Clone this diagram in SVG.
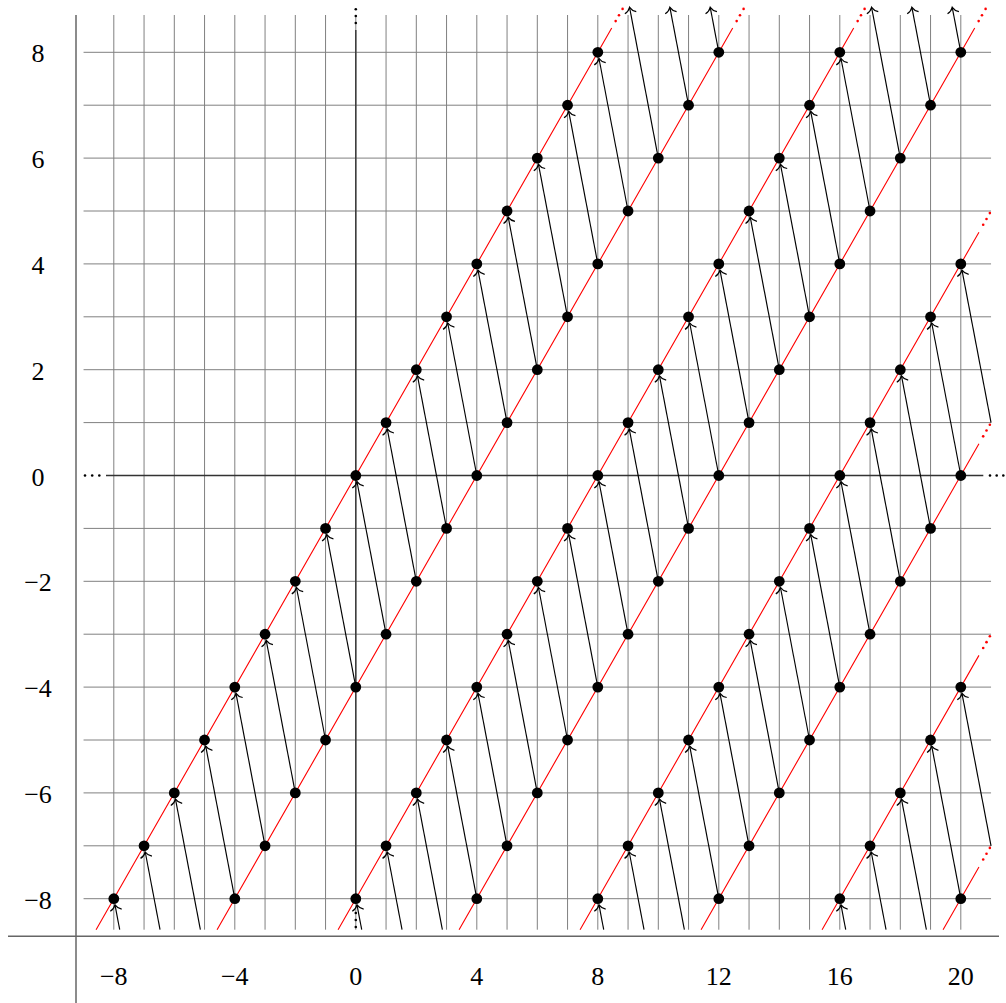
<svg xmlns="http://www.w3.org/2000/svg" width="1006" height="1003" viewBox="0 0 1006 1003">
<style>
.grid{stroke:#808080;stroke-width:1;fill:none}
.frame{stroke:#666;stroke-width:1.5;fill:none}
.axis{stroke:#333;stroke-width:1.4;fill:none}
.red{stroke:#ff0000;stroke-width:1.1;fill:none}
.rdot{fill:#ff0000}
.adot{fill:#000}
.arr{stroke:#000;stroke-width:1.15;fill:none;marker-end:url(#ah)}
.pt{fill:#000}
text{font-family:"Liberation Serif",serif;font-size:26px;fill:#000;text-anchor:middle}
</style>
<defs>
<marker id="ah" markerUnits="userSpaceOnUse" viewBox="-8 -8 16 16" markerWidth="16" markerHeight="16" refX="0" refY="0" orient="auto" overflow="visible">
<path d="M-5.4,-5.8 C-4.2,-2.8 -1.8,-0.8 0,0 C-1.8,0.8 -4.2,2.8 -5.4,5.8" fill="none" stroke="#000" stroke-width="1.25"/>
</marker>
</defs>
<rect width="1006" height="1003" fill="#fff"/>
<g id="grid">
<path class="grid" d="M113.8 15V929.7M144.05 15V929.7M174.3 15V929.7M204.55 15V929.7M234.8 15V929.7M265.05 15V929.7M295.3 15V929.7M325.55 15V929.7M355.8 15V929.7M386.05 15V929.7M416.3 15V929.7M446.55 15V929.7M476.8 15V929.7M507.05 15V929.7M537.3 15V929.7M567.55 15V929.7M597.8 15V929.7M628.05 15V929.7M658.3 15V929.7M688.55 15V929.7M718.8 15V929.7M749.05 15V929.7M779.3 15V929.7M809.55 15V929.7M839.8 15V929.7M870.05 15V929.7M900.3 15V929.7M930.55 15V929.7M960.8 15V929.7"/>
<path class="grid" d="M83.55 52.3H991.05M83.55 105.2H991.05M83.55 158.1H991.05M83.55 211H991.05M83.55 263.9H991.05M83.55 316.8H991.05M83.55 369.7H991.05M83.55 422.6H991.05M83.55 528.4H991.05M83.55 581.3H991.05M83.55 634.2H991.05M83.55 687.1H991.05M83.55 740H991.05M83.55 792.9H991.05M83.55 845.8H991.05M83.55 898.7H991.05"/>
</g>
<g id="frame">
<line class="frame" x1="76" y1="15" x2="76" y2="1003"/>
<line class="frame" x1="8" y1="936.3" x2="999" y2="936.3"/>
</g>
<g id="axes">
<line class="axis" x1="106" y1="475.5" x2="983.3" y2="475.5"/>
<line class="axis" x1="355.8" y1="898.7" x2="355.8" y2="30"/>
<circle class="adot" cx="85" cy="475.5" r="1.3"/><circle class="adot" cx="92.2" cy="475.5" r="1.3"/><circle class="adot" cx="99.3" cy="475.5" r="1.3"/>
<circle class="adot" cx="990" cy="475.5" r="1.3"/><circle class="adot" cx="996.7" cy="475.5" r="1.3"/><circle class="adot" cx="1003.3" cy="475.5" r="1.3"/>
<circle class="adot" cx="355.8" cy="23" r="1.3"/><circle class="adot" cx="355.8" cy="16" r="1.3"/><circle class="adot" cx="355.8" cy="9.3" r="1.3"/>
<circle class="adot" cx="355.8" cy="913" r="1.3"/><circle class="adot" cx="355.8" cy="920" r="1.3"/><circle class="adot" cx="355.8" cy="927" r="1.3"/>
</g>
<g id="labels">
<text x="38" y="62.3" font-family="Liberation Serif, serif" font-size="26">8</text>
<text x="38" y="168.1" font-family="Liberation Serif, serif" font-size="26">6</text>
<text x="38" y="273.9" font-family="Liberation Serif, serif" font-size="26">4</text>
<text x="38" y="379.7" font-family="Liberation Serif, serif" font-size="26">2</text>
<text x="38" y="485.5" font-family="Liberation Serif, serif" font-size="26">0</text>
<text x="38" y="591.3" font-family="Liberation Serif, serif" font-size="26">−2</text>
<text x="38" y="697.1" font-family="Liberation Serif, serif" font-size="26">−4</text>
<text x="38" y="802.9" font-family="Liberation Serif, serif" font-size="26">−6</text>
<text x="38" y="908.7" font-family="Liberation Serif, serif" font-size="26">−8</text>
<text x="113.8" y="984.7" font-family="Liberation Serif, serif" font-size="26">−8</text>
<text x="234.8" y="984.7" font-family="Liberation Serif, serif" font-size="26">−4</text>
<text x="355.8" y="984.7" font-family="Liberation Serif, serif" font-size="26">0</text>
<text x="476.8" y="984.7" font-family="Liberation Serif, serif" font-size="26">4</text>
<text x="597.8" y="984.7" font-family="Liberation Serif, serif" font-size="26">8</text>
<text x="718.8" y="984.7" font-family="Liberation Serif, serif" font-size="26">12</text>
<text x="839.8" y="984.7" font-family="Liberation Serif, serif" font-size="26">16</text>
<text x="960.8" y="984.7" font-family="Liberation Serif, serif" font-size="26">20</text>
</g>
<g id="red-lines">
<path class="red" d="M96.07 929.7L611.72 27.97M217.07 929.7L732.72 27.97M338.07 929.7L853.72 27.97M459.07 929.7L974.72 27.97M580.07 929.7L978.95 232.16M701.07 929.7L978.95 443.76M822.07 929.7L978.95 655.36M943.07 929.7L978.95 866.96"/>
<circle class="rdot" cx="615.65" cy="21.1" r="1.3"/><circle class="rdot" cx="618.98" cy="15.27" r="1.3"/><circle class="rdot" cx="622.6" cy="8.92" r="1.3"/>
<circle class="rdot" cx="736.65" cy="21.1" r="1.3"/><circle class="rdot" cx="739.98" cy="15.27" r="1.3"/><circle class="rdot" cx="743.6" cy="8.92" r="1.3"/>
<circle class="rdot" cx="857.65" cy="21.1" r="1.3"/><circle class="rdot" cx="860.98" cy="15.27" r="1.3"/><circle class="rdot" cx="864.6" cy="8.92" r="1.3"/>
<circle class="rdot" cx="978.65" cy="21.1" r="1.3"/><circle class="rdot" cx="981.98" cy="15.27" r="1.3"/><circle class="rdot" cx="985.6" cy="8.92" r="1.3"/>
<circle class="rdot" cx="983.19" cy="224.75" r="1.3"/><circle class="rdot" cx="986.51" cy="218.93" r="1.3"/><circle class="rdot" cx="989.84" cy="213.12" r="1.3"/>
<circle class="rdot" cx="983.19" cy="436.35" r="1.3"/><circle class="rdot" cx="986.51" cy="430.54" r="1.3"/><circle class="rdot" cx="989.84" cy="424.72" r="1.3"/>
<circle class="rdot" cx="983.19" cy="647.95" r="1.3"/><circle class="rdot" cx="986.51" cy="642.14" r="1.3"/><circle class="rdot" cx="989.84" cy="636.32" r="1.3"/>
<circle class="rdot" cx="983.19" cy="859.55" r="1.3"/><circle class="rdot" cx="986.51" cy="853.74" r="1.3"/><circle class="rdot" cx="989.84" cy="847.92" r="1.3"/>
</g>
<g id="connectors">
<path class="arr" d="M234.8 898.7L205.73 746.19"/>
<path class="arr" d="M265.05 845.8L235.98 693.29"/>
<path class="arr" d="M295.3 792.9L266.23 640.39"/>
<path class="arr" d="M325.55 740L296.48 587.49"/>
<path class="arr" d="M355.8 687.1L326.73 534.59"/>
<path class="arr" d="M386.05 634.2L356.98 481.69"/>
<path class="arr" d="M416.3 581.3L387.23 428.79"/>
<path class="arr" d="M446.55 528.4L417.48 375.89"/>
<path class="arr" d="M476.8 475.5L447.73 322.99"/>
<path class="arr" d="M507.05 422.6L477.98 270.09"/>
<path class="arr" d="M537.3 369.7L508.23 217.19"/>
<path class="arr" d="M567.55 316.8L538.48 164.29"/>
<path class="arr" d="M597.8 263.9L568.73 111.39"/>
<path class="arr" d="M628.05 211L598.98 58.49"/>
<path class="arr" d="M658.3 158.1L629.56 7.33"/>
<path class="arr" d="M688.55 105.2L669.89 7.33"/>
<path class="arr" d="M718.8 52.3L710.23 7.33"/>
<path class="arr" d="M119.71 929.7L114.98 904.89"/>
<path class="arr" d="M160.04 929.7L145.23 851.99"/>
<path class="arr" d="M200.38 929.7L175.48 799.09"/>
<path class="arr" d="M476.8 898.7L447.73 746.19"/>
<path class="arr" d="M507.05 845.8L477.98 693.29"/>
<path class="arr" d="M537.3 792.9L508.23 640.39"/>
<path class="arr" d="M567.55 740L538.48 587.49"/>
<path class="arr" d="M597.8 687.1L568.73 534.59"/>
<path class="arr" d="M628.05 634.2L598.98 481.69"/>
<path class="arr" d="M658.3 581.3L629.23 428.79"/>
<path class="arr" d="M688.55 528.4L659.48 375.89"/>
<path class="arr" d="M718.8 475.5L689.73 322.99"/>
<path class="arr" d="M749.05 422.6L719.98 270.09"/>
<path class="arr" d="M779.3 369.7L750.23 217.19"/>
<path class="arr" d="M809.55 316.8L780.48 164.29"/>
<path class="arr" d="M839.8 263.9L810.73 111.39"/>
<path class="arr" d="M870.05 211L840.98 58.49"/>
<path class="arr" d="M900.3 158.1L871.56 7.33"/>
<path class="arr" d="M930.55 105.2L911.89 7.33"/>
<path class="arr" d="M960.8 52.3L952.23 7.33"/>
<path class="arr" d="M361.71 929.7L356.98 904.89"/>
<path class="arr" d="M402.04 929.7L387.23 851.99"/>
<path class="arr" d="M442.38 929.7L417.48 799.09"/>
<path class="arr" d="M718.8 898.7L689.73 746.19"/>
<path class="arr" d="M749.05 845.8L719.98 693.29"/>
<path class="arr" d="M779.3 792.9L750.23 640.39"/>
<path class="arr" d="M809.55 740L780.48 587.49"/>
<path class="arr" d="M839.8 687.1L810.73 534.59"/>
<path class="arr" d="M870.05 634.2L840.98 481.69"/>
<path class="arr" d="M900.3 581.3L871.23 428.79"/>
<path class="arr" d="M930.55 528.4L901.48 375.89"/>
<path class="arr" d="M960.8 475.5L931.73 322.99"/>
<path class="arr" d="M991.05 422.6L961.98 270.09"/>
<path class="arr" d="M603.71 929.7L598.98 904.89"/>
<path class="arr" d="M644.04 929.7L629.23 851.99"/>
<path class="arr" d="M684.38 929.7L659.48 799.09"/>
<path class="arr" d="M960.8 898.7L931.73 746.19"/>
<path class="arr" d="M991.05 845.8L961.98 693.29"/>
<path class="arr" d="M845.71 929.7L840.98 904.89"/>
<path class="arr" d="M886.04 929.7L871.23 851.99"/>
<path class="arr" d="M926.38 929.7L901.48 799.09"/>
</g>
<g id="nodes">
<g id="line-c0">
<circle class="pt" cx="113.8" cy="898.7" r="5.4"/><circle class="pt" cx="144.05" cy="845.8" r="5.4"/><circle class="pt" cx="174.3" cy="792.9" r="5.4"/><circle class="pt" cx="204.55" cy="740" r="5.4"/><circle class="pt" cx="234.8" cy="687.1" r="5.4"/><circle class="pt" cx="265.05" cy="634.2" r="5.4"/><circle class="pt" cx="295.3" cy="581.3" r="5.4"/><circle class="pt" cx="325.55" cy="528.4" r="5.4"/><circle class="pt" cx="355.8" cy="475.5" r="5.4"/><circle class="pt" cx="386.05" cy="422.6" r="5.4"/><circle class="pt" cx="416.3" cy="369.7" r="5.4"/><circle class="pt" cx="446.55" cy="316.8" r="5.4"/><circle class="pt" cx="476.8" cy="263.9" r="5.4"/><circle class="pt" cx="507.05" cy="211" r="5.4"/><circle class="pt" cx="537.3" cy="158.1" r="5.4"/><circle class="pt" cx="567.55" cy="105.2" r="5.4"/><circle class="pt" cx="597.8" cy="52.3" r="5.4"/>
</g>
<g id="line-c4">
<circle class="pt" cx="234.8" cy="898.7" r="5.4"/><circle class="pt" cx="265.05" cy="845.8" r="5.4"/><circle class="pt" cx="295.3" cy="792.9" r="5.4"/><circle class="pt" cx="325.55" cy="740" r="5.4"/><circle class="pt" cx="355.8" cy="687.1" r="5.4"/><circle class="pt" cx="386.05" cy="634.2" r="5.4"/><circle class="pt" cx="416.3" cy="581.3" r="5.4"/><circle class="pt" cx="446.55" cy="528.4" r="5.4"/><circle class="pt" cx="476.8" cy="475.5" r="5.4"/><circle class="pt" cx="507.05" cy="422.6" r="5.4"/><circle class="pt" cx="537.3" cy="369.7" r="5.4"/><circle class="pt" cx="567.55" cy="316.8" r="5.4"/><circle class="pt" cx="597.8" cy="263.9" r="5.4"/><circle class="pt" cx="628.05" cy="211" r="5.4"/><circle class="pt" cx="658.3" cy="158.1" r="5.4"/><circle class="pt" cx="688.55" cy="105.2" r="5.4"/><circle class="pt" cx="718.8" cy="52.3" r="5.4"/>
</g>
<g id="line-c8">
<circle class="pt" cx="355.8" cy="898.7" r="5.4"/><circle class="pt" cx="386.05" cy="845.8" r="5.4"/><circle class="pt" cx="416.3" cy="792.9" r="5.4"/><circle class="pt" cx="446.55" cy="740" r="5.4"/><circle class="pt" cx="476.8" cy="687.1" r="5.4"/><circle class="pt" cx="507.05" cy="634.2" r="5.4"/><circle class="pt" cx="537.3" cy="581.3" r="5.4"/><circle class="pt" cx="567.55" cy="528.4" r="5.4"/><circle class="pt" cx="597.8" cy="475.5" r="5.4"/><circle class="pt" cx="628.05" cy="422.6" r="5.4"/><circle class="pt" cx="658.3" cy="369.7" r="5.4"/><circle class="pt" cx="688.55" cy="316.8" r="5.4"/><circle class="pt" cx="718.8" cy="263.9" r="5.4"/><circle class="pt" cx="749.05" cy="211" r="5.4"/><circle class="pt" cx="779.3" cy="158.1" r="5.4"/><circle class="pt" cx="809.55" cy="105.2" r="5.4"/><circle class="pt" cx="839.8" cy="52.3" r="5.4"/>
</g>
<g id="line-c12">
<circle class="pt" cx="476.8" cy="898.7" r="5.4"/><circle class="pt" cx="507.05" cy="845.8" r="5.4"/><circle class="pt" cx="537.3" cy="792.9" r="5.4"/><circle class="pt" cx="567.55" cy="740" r="5.4"/><circle class="pt" cx="597.8" cy="687.1" r="5.4"/><circle class="pt" cx="628.05" cy="634.2" r="5.4"/><circle class="pt" cx="658.3" cy="581.3" r="5.4"/><circle class="pt" cx="688.55" cy="528.4" r="5.4"/><circle class="pt" cx="718.8" cy="475.5" r="5.4"/><circle class="pt" cx="749.05" cy="422.6" r="5.4"/><circle class="pt" cx="779.3" cy="369.7" r="5.4"/><circle class="pt" cx="809.55" cy="316.8" r="5.4"/><circle class="pt" cx="839.8" cy="263.9" r="5.4"/><circle class="pt" cx="870.05" cy="211" r="5.4"/><circle class="pt" cx="900.3" cy="158.1" r="5.4"/><circle class="pt" cx="930.55" cy="105.2" r="5.4"/><circle class="pt" cx="960.8" cy="52.3" r="5.4"/>
</g>
<g id="line-c16">
<circle class="pt" cx="597.8" cy="898.7" r="5.4"/><circle class="pt" cx="628.05" cy="845.8" r="5.4"/><circle class="pt" cx="658.3" cy="792.9" r="5.4"/><circle class="pt" cx="688.55" cy="740" r="5.4"/><circle class="pt" cx="718.8" cy="687.1" r="5.4"/><circle class="pt" cx="749.05" cy="634.2" r="5.4"/><circle class="pt" cx="779.3" cy="581.3" r="5.4"/><circle class="pt" cx="809.55" cy="528.4" r="5.4"/><circle class="pt" cx="839.8" cy="475.5" r="5.4"/><circle class="pt" cx="870.05" cy="422.6" r="5.4"/><circle class="pt" cx="900.3" cy="369.7" r="5.4"/><circle class="pt" cx="930.55" cy="316.8" r="5.4"/><circle class="pt" cx="960.8" cy="263.9" r="5.4"/>
</g>
<g id="line-c20">
<circle class="pt" cx="718.8" cy="898.7" r="5.4"/><circle class="pt" cx="749.05" cy="845.8" r="5.4"/><circle class="pt" cx="779.3" cy="792.9" r="5.4"/><circle class="pt" cx="809.55" cy="740" r="5.4"/><circle class="pt" cx="839.8" cy="687.1" r="5.4"/><circle class="pt" cx="870.05" cy="634.2" r="5.4"/><circle class="pt" cx="900.3" cy="581.3" r="5.4"/><circle class="pt" cx="930.55" cy="528.4" r="5.4"/><circle class="pt" cx="960.8" cy="475.5" r="5.4"/>
</g>
<g id="line-c24">
<circle class="pt" cx="839.8" cy="898.7" r="5.4"/><circle class="pt" cx="870.05" cy="845.8" r="5.4"/><circle class="pt" cx="900.3" cy="792.9" r="5.4"/><circle class="pt" cx="930.55" cy="740" r="5.4"/><circle class="pt" cx="960.8" cy="687.1" r="5.4"/>
</g>
<g id="line-c28">
<circle class="pt" cx="960.8" cy="898.7" r="5.4"/>
</g>
</g>
</svg>
